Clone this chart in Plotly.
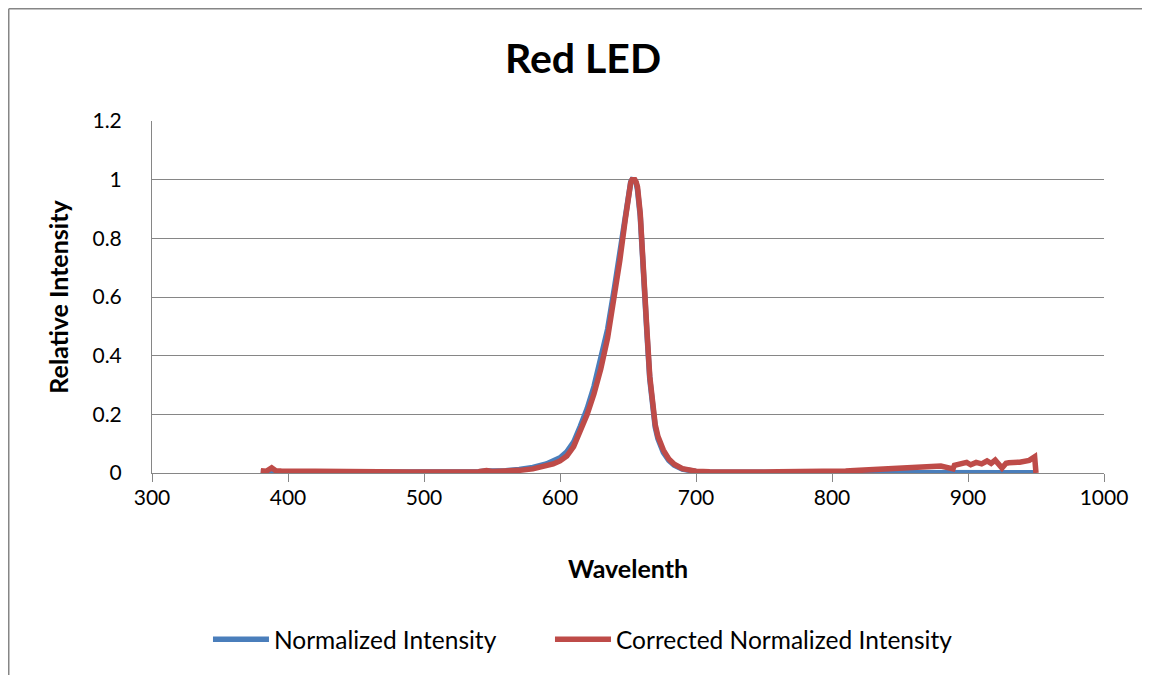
import plotly.graph_objects as go

wavelength = [380, 384, 388, 391, 395, 400, 410, 420, 430, 440, 450, 460, 470, 480, 490, 500,
              510, 520, 530, 540, 546, 550, 560, 570, 580, 590, 595, 600, 605, 610, 615, 620,
              625, 630, 635, 640, 644, 648, 650, 651, 652, 653, 655, 656, 657, 659, 661, 662.5,
              664, 666, 668, 670, 672, 674, 676, 680, 684, 690, 696, 700, 710, 720, 730, 740,
              750, 760, 770, 780, 790, 800, 810, 820, 830, 840, 850, 860, 870, 880, 889, 890,
              899, 902, 906, 910, 914, 917, 920, 922, 925, 928, 930, 938, 940, 945, 949, 950]

normalized = [0.004, 0.003, 0.006, 0.003, 0.003, 0.003, 0.002, 0.002, 0.002, 0.002, 0.002, 0.002, 0.002, 0.002, 0.002, 0.002,
              0.002, 0.002, 0.003, 0.004, 0.007, 0.006, 0.008, 0.012, 0.019, 0.031, 0.040, 0.052, 0.072, 0.105, 0.160, 0.220,
              0.295, 0.385, 0.490, 0.630, 0.755, 0.895, 0.960, 0.975, 0.992, 1.000, 0.998, 0.988, 0.965, 0.875, 0.740, 0.600,
              0.470, 0.320, 0.225, 0.157, 0.117, 0.088, 0.070, 0.043, 0.027, 0.013, 0.007, 0.005, 0.003, 0.002, 0.002, 0.002,
              0.002, 0.002, 0.002, 0.002, 0.002, 0.002, 0.002, 0.002, 0.002, 0.002, 0.002, 0.002, 0.002, 0.002, 0.002, 0.002,
              0.002, 0.002, 0.002, 0.002, 0.002, 0.002, 0.002, 0.002, 0.002, 0.002, 0.002, 0.002, 0.002, 0.002, 0.002, 0.001]

corrected = [0.008, 0.006, 0.018, 0.008, 0.007, 0.008, 0.006, 0.006, 0.005, 0.004, 0.004, 0.004, 0.003, 0.003, 0.003, 0.003,
             0.002, 0.002, 0.003, 0.004, 0.008, 0.005, 0.006, 0.009, 0.014, 0.024, 0.031, 0.041, 0.058, 0.090, 0.145, 0.200,
             0.270, 0.355, 0.460, 0.600, 0.725, 0.865, 0.945, 0.960, 0.990, 1.000, 1.000, 0.992, 0.975, 0.885, 0.750, 0.612,
             0.480, 0.330, 0.235, 0.165, 0.125, 0.095, 0.078, 0.048, 0.030, 0.015, 0.008, 0.006, 0.004, 0.003, 0.003, 0.003,
             0.003, 0.004, 0.004, 0.005, 0.006, 0.006, 0.007, 0.009, 0.011, 0.013, 0.017, 0.019, 0.021, 0.024, 0.014, 0.026,
             0.036, 0.028, 0.036, 0.031, 0.041, 0.033, 0.044, 0.034, 0.017, 0.033, 0.035, 0.037, 0.038, 0.043, 0.055, 0.000]

x_ticks = [300, 400, 500, 600, 700, 800, 900, 1000]
y_ticks = [0, 0.2, 0.4, 0.6, 0.8, 1, 1.2]
y_tick_labels = ["0", "0.2", "0.4", "0.6", "0.8", "1", "1.2"]

FONT = "Lato"
GRAY = "#868686"

fig = go.Figure()
fig.add_trace(go.Scatter(x=wavelength, y=normalized, mode="lines",
                         name="Normalized Intensity", legendwidth=271,
                         line=dict(color="#4A7EBB", width=5.5)))
fig.add_trace(go.Scatter(x=wavelength, y=corrected, mode="lines",
                         name="Corrected Normalized Intensity",
                         line=dict(color="#BE4B48", width=5.5)))

fig.update_layout(
    width=1150, height=675,
    paper_bgcolor="white", plot_bgcolor="white",
    margin=dict(l=144, r=54, t=113, b=210, autoexpand=False),
    font=dict(family=FONT, color="black", size=21),
    title=dict(text="<b>Red LED</b>", x=0.5, xanchor="center", y=0.9244, yanchor="middle",
               font=dict(family=FONT, size=41, color="black")),
    showlegend=True,
    legend=dict(orientation="h", x=0.0588, xanchor="left", y=-0.4725, yanchor="middle",
                itemwidth=56,
                font=dict(family=FONT, size=24.5, color="black"), bgcolor="rgba(0,0,0,0)"),
    shapes=[
        dict(type="line", xref="paper", yref="paper", x0=-0.15047, x1=1.06, y0=1.3189, y1=1.3189,
             line=dict(color=GRAY, width=1.5)),
        dict(type="line", xref="paper", yref="paper", x0=-0.15047, x1=-0.15047, y0=1.3189, y1=-0.6,
             line=dict(color=GRAY, width=1.5)),
    ],
)

fig.update_xaxes(range=[300, 1000], tickvals=x_ticks, ticktext=[str(v) for v in x_ticks],
                 showgrid=False, showline=True, linecolor=GRAY, linewidth=1,
                 ticks="outside", ticklen=8, tickcolor=GRAY, tickwidth=1,
                 ticklabelstandoff=-2,
                 tickfont=dict(family=FONT, size=21, color="black"),
                 title=dict(text="<b>Wavelenth</b>", standoff=52,
                            font=dict(family=FONT, size=25, color="black")),
                 zeroline=False, fixedrange=True)
fig.update_yaxes(range=[0, 1.2], tickvals=y_ticks, ticktext=y_tick_labels,
                 showgrid=True, gridcolor=GRAY, gridwidth=1,
                 showline=True, linecolor=GRAY, linewidth=1,
                 ticks="", ticklabelstandoff=25,
                 tickfont=dict(family=FONT, size=21, color="black"),
                 title=dict(text="<b>Relative Intensity</b>", standoff=16,
                            font=dict(family=FONT, size=25, color="black")),
                 zeroline=False, fixedrange=True)

fig.write_html("out.html",
               post_script="document.documentElement.style.overflow='hidden';"
                           "document.body.style.overflow='hidden';")
